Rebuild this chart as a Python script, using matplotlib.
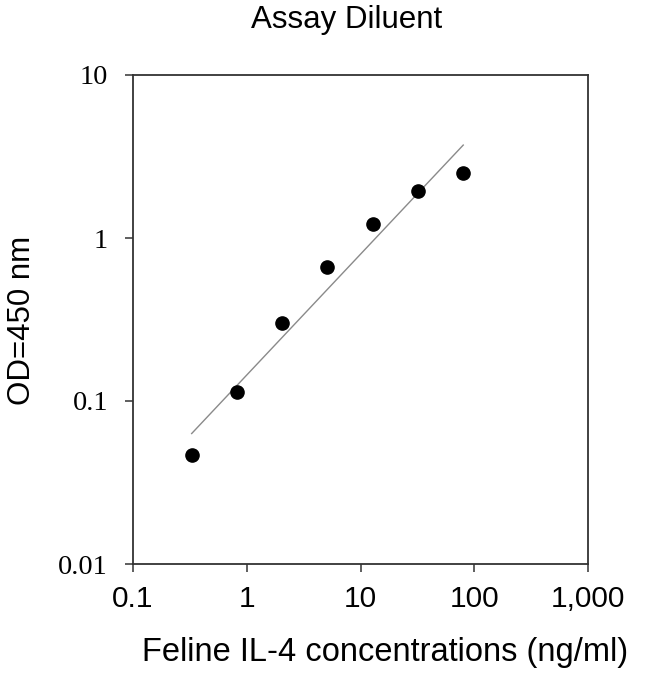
import numpy as np
import matplotlib
matplotlib.use("Agg")
import matplotlib.pyplot as plt

# Standard curve data
conc = [0.328, 0.819, 2.048, 5.12, 12.8, 32.0, 80.0]          # ng/ml
od = [0.0466, 0.113, 0.302, 0.667, 1.22, 1.94, 2.49]          # OD 450 nm

x_ticks = [0.1, 1, 10, 100, 1000]
x_ticklabels = ["0.1", "1", "10", "100", "1,000"]
y_ticks = [0.01, 0.1, 1, 10]
y_ticklabels = ["0.01", "0.1", "1", "10"]

# log-log linear fit over the measured range
slope, intercept = np.polyfit(np.log10(conc), np.log10(od), 1)
fit_x = np.array([conc[0], conc[-1]])
fit_y = 10 ** (intercept + slope * np.log10(fit_x))

fig = plt.figure(figsize=(6.5, 6.74), dpi=100)
ax = fig.add_axes([133 / 650, 1 - 564 / 674, 455 / 650, 489 / 674])

ax.plot(fit_x, fit_y, color="#8a8a8a", linewidth=1.0, zorder=2)
ax.plot(conc, od, "o", color="black", markersize=9.5, zorder=3)

ax.set_xscale("log")
ax.set_yscale("log")
ax.set_xlim(0.1, 1000)
ax.set_ylim(0.01, 10)

ax.set_xticks(x_ticks)
ax.set_xticklabels(x_ticklabels, fontsize=21.5, family="Liberation Sans")
ax.set_yticks(y_ticks)
ax.set_yticklabels(y_ticklabels, fontsize=20.5, family="Liberation Serif")
ax.minorticks_off()
ax.tick_params(axis="both", direction="out", length=6, width=1.1, color="#333333")
ax.tick_params(axis="x", pad=9)
ax.tick_params(axis="y", pad=12)

for sp in ax.spines.values():
    sp.set_linewidth(1.3)
    sp.set_color("#333333")

fig.text(347 / 650, 1 - 20 / 674, "Assay Diluent", ha="center", va="center",
         fontsize=22.5, family="Liberation Sans")
fig.text(385 / 650, 1 - 652 / 674, "Feline IL-4 concentrations (ng/ml)", ha="center",
         va="center", fontsize=23.5, family="Liberation Sans")
fig.text(22 / 650, 1 - 320 / 674, "OD=450 nm", ha="center", va="center", rotation=90,
         fontsize=22.5, family="Liberation Sans")

fig.savefig("out.png", dpi=100)
